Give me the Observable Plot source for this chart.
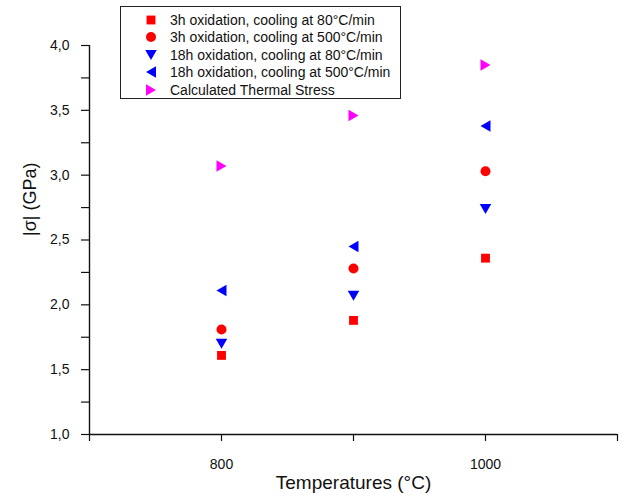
<!DOCTYPE html>
<html>
<head>
<meta charset="utf-8">
<script src="https://cdn.jsdelivr.net/npm/d3@7"></script>
<script src="https://cdn.jsdelivr.net/npm/@observablehq/plot@0.6"></script>
<style>
  body { margin: 0; background: #fff; }
  #wrap { position: relative; width: 622px; height: 498px; font-family: "Liberation Sans", Arial, Helvetica, sans-serif; }
  #legend { position: absolute; left: 120px; top: 6px; width: 279px; height: 91px; border: 1px solid #222; background: #fff; }
  .row { position: absolute; left: 0; height: 16px; font-size: 14px; color: #111; white-space: nowrap; }
  .row svg { position: absolute; left: 20px; top: -2px; }
  .row span { position: absolute; left: 49px; top: -1px; line-height: 18px; }
</style>
</head>
<body>
<div id="wrap"></div>
<script>
// ---- data ----
const temperatures = [800, 900, 1000];
const ox3h_80 = [1.61, 1.88, 2.36];
const ox3h_500 = [1.81, 2.28, 3.03];
const ox18h_80 = [1.70, 2.07, 2.74];
const ox18h_500 = [2.11, 2.45, 3.38];
const thermal = [3.07, 3.46, 3.85];
const seriesLabels = [
  "3h oxidation, cooling at 80°C/min",
  "3h oxidation, cooling at 500°C/min",
  "18h oxidation, cooling at 80°C/min",
  "18h oxidation, cooling at 500°C/min",
  "Calculated Thermal Stress"
];
const seriesColors = ["#ff0000", "#ff0000", "#0000ff", "#0000ff", "#ff00ff"];
const xTicks = [700, 800, 900, 1000, 1100];
const xLabeled = [800, 1000];
const yTicks = [1, 1.5, 2, 2.5, 3, 3.5, 4];
const yMinor = [1.25, 1.75, 2.25, 2.75, 3.25, 3.75];
const xTitle = "Temperatures (°C)";
const yTitle = "|σ| (GPa)";

// ---- symbols ----
function tri(dir) {
  return {
    draw(ctx, size) {
      const r = Math.sqrt(size / Math.PI);
      const a = r * 1.15, h = r;
      if (dir === "down") { ctx.moveTo(-a, -h); ctx.lineTo(a, -h); ctx.lineTo(0, h); }
      else if (dir === "left") { ctx.moveTo(h, -a); ctx.lineTo(h, a); ctx.lineTo(-h, 0); }
      else { ctx.moveTo(-h, -a); ctx.lineTo(-h, a); ctx.lineTo(h, 0); }
      ctx.closePath();
    }
  };
}
const seriesSymbols = [d3.symbolSquare, d3.symbolCircle, tri("down"), tri("left"), tri("right")];
const seriesValues = [ox3h_80, ox3h_500, ox18h_80, ox18h_500, thermal];
const R = 5;

const comma = d => d3.format(".1f")(d).replace(".", ",");

const dotMarks = seriesValues.map((vals, i) =>
  Plot.dot(temperatures.map((t, j) => ({t, v: vals[j]})), {
    x: "t", y: "v", symbol: seriesSymbols[i], fill: seriesColors[i], r: R, stroke: "none"
  })
);

const chart = Plot.plot({
  width: 622,
  height: 498,
  marginLeft: 89,
  marginRight: 5,
  marginTop: 45,
  marginBottom: 64,
  style: { fontFamily: "Liberation Sans, Arial, Helvetica, sans-serif", fontSize: "14px", color: "#111", background: "#fff" },
  x: { domain: [700, 1100] },
  y: { domain: [1, 4] },
  marks: [
    Plot.axisX({ ticks: xTicks, tickSize: 7, tickPadding: 18, tickFormat: d => xLabeled.includes(d) ? String(d) : "", label: null, stroke: "#111", strokeWidth: 1.2, fontSize: 14 }),
    Plot.axisY({ ticks: yTicks, tickSize: 8, tickPadding: 12, tickFormat: comma, label: null, stroke: "#111", strokeWidth: 1.2, fontSize: 14 }),
    Plot.axisY({ ticks: yMinor, tickSize: 8, tickFormat: () => "", label: null, stroke: "#111", strokeWidth: 1.2 }),
    Plot.ruleY([1], { stroke: "#111", strokeWidth: 1.4 }),
    Plot.ruleX([700], { stroke: "#111", strokeWidth: 1.4 }),
    ...dotMarks,
    Plot.text([xTitle], { frameAnchor: "bottom", dy: 54, fontSize: 19, fill: "#111" }),
    Plot.text([yTitle], { frameAnchor: "left", dx: -59, dy: -4, rotate: -90, fontSize: 18, fill: "#111" })
  ]
});

const wrap = document.getElementById("wrap");
wrap.appendChild(chart);

// ---- legend ----
const legend = document.createElement("div");
legend.id = "legend";
seriesLabels.forEach((label, i) => {
  const row = document.createElement("div");
  row.className = "row";
  row.style.top = (5 + i * 17.4) + "px";
  const p = d3.path();
  seriesSymbols[i].draw(p, Math.PI * R * R);
  row.innerHTML = `<svg width="20" height="20" viewBox="-10 -10 20 20"><path d="${p.toString()}" fill="${seriesColors[i]}"></path></svg><span>${label}</span>`;
  legend.appendChild(row);
});
wrap.appendChild(legend);
</script>
</body>
</html>
